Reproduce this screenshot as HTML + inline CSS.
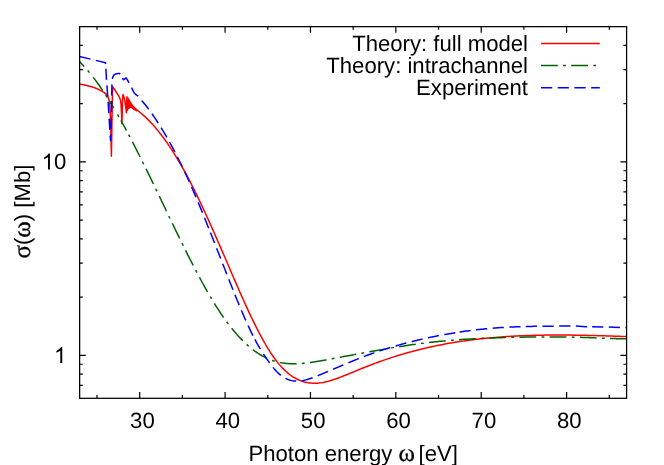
<!DOCTYPE html>
<html>
<head>
<meta charset="utf-8">
<title>Photoionization cross section</title>
<style>
html, body { margin: 0; padding: 0; background: #ffffff; }
body { width: 664px; height: 465px; overflow: hidden; }
svg { display: block; will-change: transform; }
text { font-family: "Liberation Sans", sans-serif; font-size: 22.13px; fill: #000000; text-rendering: geometricPrecision; }
.sym { font-family: "Liberation Serif", serif; font-size: 25px; stroke: #000; stroke-width: 0.3px; }
</style>
</head>
<body>
<svg width="664" height="465" viewBox="0 0 664 465">
<rect x="0" y="0" width="664" height="465" fill="#ffffff"/>
<defs><clipPath id="plotclip"><rect x="79.65" y="26.65" width="546.95" height="371.65"/></clipPath></defs>
<g clip-path="url(#plotclip)" fill="none" stroke-width="1.5" stroke-linejoin="round">
<path id="c-red" stroke="#ff0000" d="M79.6,84.1 L80.39,84.23 L81.19,84.37 L81.98,84.51 L82.78,84.66 L83.57,84.82 L84.37,84.99 L85.16,85.16 L85.96,85.34 L86.75,85.53 L87.54,85.71 L88.34,85.91 L89.13,86.11 L89.93,86.32 L90.72,86.54 L91.52,86.77 L92.31,87.01 L93.11,87.26 L93.9,87.53 L94.69,87.81 L95.49,88.11 L96.28,88.43 L97.08,88.78 L97.87,89.14 L98.67,89.52 L99.46,89.91 L100.26,90.32 L101.05,90.73 L101.84,91.16 L102.64,91.6 L103.43,92.08 L104.23,92.59 L105.02,93.16 L105.82,93.8 L106.61,94.61 L107.41,95.82 L108.2,97.4 L109,100 L109.7,104.2 L110.3,114 L110.8,130 L111.4,156.2 L111.9,125 L112.2,105 L112.5,93 L112.8,86.8 L113.2,87.4 L114.02,88.66 L114.84,89.94 L115.67,91.25 L116.49,92.58 L117.31,93.86 L118.13,95.1 L118.96,96.48 L119.78,98.15 L120.6,100.6 L121,104 L121.4,111 L121.9,123.6 L122.3,110 L122.7,98 L123,94.6 L124,97.3 L125,101.6 L125.8,107.6 L126.4,112.7 L126.65,103 L126.9,96.7 L127.53,110.14 L128.15,98.31 L128.69,108.36 L129.22,99.98 L129.69,107.65 L130.15,101.71 L130.55,107.33 L130.94,103.07 L131.29,107.36 L131.63,104.09 L131.93,107.69 L132.23,104.96 L132.53,108.16 L132.83,105.77 L133.13,108.68 L133.43,106.53 L133.73,109.17 L134.03,107.22 L134.33,109.52 L134.63,107.85 L134.93,109.83 L135.23,108.44 L135.53,110.12 L135.83,108.99 L136.13,110.4 L136.43,109.5 L136.73,110.65 L137.03,109.95 L137.5,110.41 L139,111.57 L140.5,112.78 L141.99,114.04 L143.49,115.36 L144.99,116.72 L146.49,118.14 L147.99,119.62 L149.49,121.14 L150.98,122.71 L152.48,124.34 L153.98,126.02 L155.48,127.74 L156.98,129.52 L158.47,131.35 L159.97,133.24 L161.47,135.17 L162.97,137.15 L164.47,139.18 L165.97,141.27 L167.46,143.41 L168.96,145.59 L170.46,147.83 L171.96,150.11 L173.46,152.45 L174.95,154.84 L176.45,157.28 L177.95,159.76 L179.45,162.3 L180.95,164.89 L182.44,167.52 L183.94,170.21 L185.44,172.95 L186.94,175.73 L188.44,178.56 L189.94,181.44 L191.43,184.35 L192.93,187.31 L194.43,190.31 L195.93,193.35 L197.43,196.42 L198.92,199.53 L200.42,202.68 L201.92,205.85 L203.42,209.06 L204.92,212.3 L206.42,215.56 L207.91,218.85 L209.41,222.16 L210.91,225.5 L212.41,228.86 L213.91,232.23 L215.4,235.63 L216.9,239.04 L218.4,242.47 L219.9,245.91 L221.4,249.36 L222.9,252.83 L224.39,256.3 L225.89,259.78 L227.39,263.26 L228.89,266.75 L230.39,270.23 L231.88,273.71 L233.38,277.19 L234.88,280.65 L236.38,284.1 L237.88,287.54 L239.38,290.96 L240.87,294.35 L242.37,297.72 L243.87,301.06 L245.37,304.38 L246.87,307.65 L248.36,310.89 L249.86,314.1 L251.36,317.25 L252.86,320.37 L254.36,323.43 L255.86,326.44 L257.35,329.4 L258.85,332.3 L260.35,335.14 L261.85,337.91 L263.35,340.62 L264.84,343.25 L266.34,345.82 L267.84,348.31 L269.34,350.72 L270.84,353.05 L272.33,355.29 L273.83,357.45 L275.33,359.51 L276.83,361.48 L278.33,363.36 L279.83,365.13 L281.32,366.82 L282.82,368.4 L284.32,369.9 L285.82,371.3 L287.32,372.62 L288.81,373.85 L290.31,374.99 L291.81,376.05 L293.31,377.03 L294.81,377.93 L296.31,378.75 L297.8,379.5 L299.3,380.17 L300.8,380.77 L302.3,381.31 L303.8,381.77 L305.29,382.16 L306.79,382.5 L308.29,382.76 L309.79,382.97 L311.29,383.12 L312.79,383.21 L314.28,383.25 L315.78,383.23 L317.28,383.16 L318.78,383.04 L320.28,382.87 L321.77,382.66 L323.27,382.4 L324.77,382.1 L326.27,381.76 L327.77,381.39 L329.27,380.99 L330.76,380.55 L332.26,380.08 L333.76,379.59 L335.26,379.08 L336.76,378.54 L338.25,377.99 L339.75,377.42 L341.25,376.84 L342.75,376.25 L344.25,375.65 L345.74,375.04 L347.24,374.44 L348.74,373.83 L350.24,373.21 L351.74,372.6 L353.24,371.99 L354.73,371.37 L356.23,370.76 L357.73,370.14 L359.23,369.53 L360.73,368.92 L362.22,368.32 L363.72,367.71 L365.22,367.11 L366.72,366.52 L368.22,365.93 L369.72,365.34 L371.21,364.77 L372.71,364.2 L374.21,363.63 L375.71,363.08 L377.21,362.52 L378.7,361.98 L380.2,361.44 L381.7,360.91 L383.2,360.39 L384.7,359.87 L386.2,359.35 L387.69,358.85 L389.19,358.35 L390.69,357.86 L392.19,357.37 L393.69,356.89 L395.18,356.41 L396.68,355.95 L398.18,355.48 L399.68,355.03 L401.18,354.58 L402.68,354.13 L404.17,353.7 L405.67,353.27 L407.17,352.84 L408.67,352.42 L410.17,352.01 L411.66,351.6 L413.16,351.2 L414.66,350.8 L416.16,350.42 L417.66,350.03 L419.16,349.65 L420.65,349.28 L422.15,348.92 L423.65,348.56 L425.15,348.2 L426.65,347.86 L428.14,347.51 L429.64,347.18 L431.14,346.85 L432.64,346.52 L434.14,346.2 L435.63,345.89 L437.13,345.58 L438.63,345.27 L440.13,344.98 L441.63,344.68 L443.13,344.4 L444.62,344.11 L446.12,343.84 L447.62,343.57 L449.12,343.3 L450.62,343.04 L452.11,342.78 L453.61,342.53 L455.11,342.29 L456.61,342.04 L458.11,341.81 L459.61,341.58 L461.1,341.35 L462.6,341.13 L464.1,340.91 L465.6,340.7 L467.1,340.49 L468.59,340.29 L470.09,340.09 L471.59,339.9 L473.09,339.71 L474.59,339.52 L476.09,339.34 L477.58,339.17 L479.08,339 L480.58,338.83 L482.08,338.67 L483.58,338.51 L485.07,338.35 L486.57,338.2 L488.07,338.06 L489.57,337.91 L491.07,337.77 L492.57,337.64 L494.06,337.51 L495.56,337.38 L497.06,337.26 L498.56,337.14 L500.06,337.03 L501.55,336.91 L503.05,336.81 L504.55,336.7 L506.05,336.6 L507.55,336.51 L509.04,336.41 L510.54,336.32 L512.04,336.24 L513.54,336.15 L515.04,336.07 L516.54,336 L518.03,335.92 L519.53,335.85 L521.03,335.79 L522.53,335.72 L524.03,335.66 L525.52,335.6 L527.02,335.55 L528.52,335.5 L530.02,335.45 L531.52,335.4 L533.02,335.36 L534.51,335.32 L536.01,335.28 L537.51,335.25 L539.01,335.22 L540.51,335.19 L542,335.16 L543.5,335.14 L545,335.12 L546.5,335.1 L548,335.08 L549.5,335.07 L550.99,335.05 L552.49,335.05 L553.99,335.04 L555.49,335.03 L556.99,335.03 L558.48,335.03 L559.98,335.03 L561.48,335.03 L562.98,335.04 L564.48,335.05 L565.98,335.06 L567.47,335.07 L568.97,335.08 L570.47,335.1 L571.97,335.11 L573.47,335.13 L574.96,335.15 L576.46,335.17 L577.96,335.2 L579.46,335.22 L580.96,335.25 L582.46,335.28 L583.95,335.3 L585.45,335.34 L586.95,335.37 L588.45,335.4 L589.95,335.44 L591.44,335.47 L592.94,335.51 L594.44,335.55 L595.94,335.59 L597.44,335.63 L598.93,335.67 L600.43,335.71 L601.93,335.76 L603.43,335.8 L604.93,335.84 L606.43,335.89 L607.92,335.94 L609.42,335.99 L610.92,336.03 L612.42,336.08 L613.92,336.13 L615.41,336.18 L616.91,336.23 L618.41,336.28 L619.91,336.34 L621.41,336.39 L622.91,336.44 L624.4,336.49 L625.9,336.55 L627.4,336.6"/>
<path id="c-green" stroke="#006400" d="M79.6,61.8 L81.1,63.29 L82.6,64.84 L84.08,66.42 M87.67,70.47 L88.6,71.57 L89.47,72.61 M93.18,77.26 L94.61,79.13 L96.11,81.14 L97.61,83.2 L99.11,85.3 L100.61,87.45 L102.11,89.65 L102.72,90.55 M105.71,95.08 L106.61,96.48 L107.22,97.44 M109.3,100.74 L109.62,101.24 L111.12,103.68 L112.62,106.15 L113.79,108.11 M117.48,114.41 L118.62,116.41 L118.87,116.84 M120.9,120.44 L121.62,121.74 L123.12,124.45 L124.62,127.18 L126.13,129.95 L126.41,130.49 M128.58,134.53 L129.13,135.57 L129.89,137.01 M132.45,141.91 L133.63,144.18 L135.13,147.1 L136.63,150.04 L138.13,153 L139.63,155.97 L140.09,156.88 M142.46,161.62 L142.63,161.98 L143.7,164.13 M146.05,168.88 L147.14,171.1 L148.64,174.17 L150.14,177.25 L151.64,180.33 L153.14,183.43 L153.41,183.98 M155.71,188.76 L156.14,189.65 L156.93,191.28 M159.22,196.05 L160.64,199.01 L162.15,202.14 L163.65,205.27 L165.15,208.4 L166.49,211.2 M168.78,215.98 L169.65,217.78 L170,218.5 M172.3,223.28 L172.65,224.01 L174.15,227.12 L175.65,230.22 L177.15,233.31 L178.65,236.4 L179.63,238.39 M181.97,243.15 L183.16,245.56 L183.2,245.66 M185.56,250.41 L186.16,251.6 L187.66,254.59 L189.16,257.57 L190.66,260.52 L192.16,263.45 L193.16,265.39 M195.61,270.09 L196.66,272.1 L196.91,272.57 M199.41,277.25 L199.67,277.73 L201.17,280.5 L202.67,283.24 L204.17,285.95 L205.67,288.62 L207.17,291.26 L207.56,291.93 M210.22,296.52 L211.65,298.92 M214.41,303.45 L214.67,303.88 L216.17,306.29 L217.68,308.64 L219.18,310.96 L220.68,313.22 L222.18,315.44 L223.61,317.51 M226.7,321.81 L228.18,323.81 L228.37,324.06 M231.63,328.24 L232.68,329.54 L234.18,331.35 L235.69,333.11 L237.19,334.82 L238.69,336.47 L240.19,338.08 L241.69,339.63 L242.82,340.76 M246.66,344.41 L247.69,345.34 L248.76,346.26 M252.87,349.61 L253.7,350.24 L255.2,351.35 L256.7,352.4 L258.2,353.4 L259.7,354.35 L261.2,355.25 L262.7,356.11 L264.2,356.91 L265.7,357.67 L267.16,358.36 M272.08,360.33 L273.21,360.72 L274.71,361.18 L274.74,361.19 M279.89,362.46 L280.71,362.63 L282.21,362.89 L283.71,363.11 L285.21,363.3 L286.71,363.45 L288.21,363.57 L289.72,363.66 L291.22,363.72 L292.72,363.75 L294.22,363.76 L295.72,363.74 L296.6,363.71 M301.9,363.41 L303.22,363.3 L304.68,363.16 M309.95,362.53 L310.73,362.42 L312.23,362.21 L313.73,361.98 L315.23,361.75 L316.73,361.5 L318.23,361.25 L319.73,360.99 L321.23,360.73 L322.73,360.46 L324.23,360.19 L325.73,359.92 L326.52,359.78 M331.73,358.82 L331.74,358.82 L333.24,358.54 L334.48,358.31 M339.7,357.35 L340.74,357.15 L342.24,356.87 L343.74,356.59 L345.25,356.31 L346.75,356.03 L348.25,355.74 L349.75,355.46 L351.25,355.18 L352.75,354.9 L354.25,354.62 L355.75,354.34 L356.21,354.25 M361.42,353.28 L361.75,353.22 L363.26,352.94 L364.17,352.77 M369.38,351.81 L370.76,351.56 L372.26,351.28 L373.76,351.01 L375.26,350.74 L376.76,350.47 L378.26,350.2 L379.76,349.94 L381.27,349.67 L382.77,349.41 L384.27,349.15 L385.77,348.89 L385.92,348.86 M391.15,347.97 L391.77,347.87 L393.27,347.62 L393.91,347.51 M399.14,346.66 L399.28,346.64 L400.78,346.41 L402.28,346.17 L403.78,345.94 L405.28,345.71 L406.78,345.48 L408.28,345.26 L409.78,345.04 L411.28,344.82 L412.78,344.6 L414.28,344.39 L415.76,344.19 M421.01,343.48 L421.79,343.38 L423.29,343.19 L423.79,343.13 M429.05,342.5 L429.29,342.47 L430.79,342.3 L432.29,342.13 L433.79,341.96 L435.29,341.8 L436.8,341.65 L438.3,341.49 L439.8,341.34 L441.3,341.2 L442.8,341.05 L444.3,340.91 L445.76,340.78 M451.04,340.32 L451.8,340.26 L453.3,340.14 L453.83,340.1 M459.12,339.7 L459.31,339.68 L460.81,339.58 L462.31,339.47 L463.81,339.37 L465.31,339.28 L466.81,339.18 L468.31,339.09 L469.81,339 L471.31,338.91 L472.82,338.83 L474.32,338.74 L475.82,338.66 L475.89,338.66 M481.18,338.4 L481.82,338.37 L483.32,338.3 L483.98,338.27 M489.27,338.05 L489.32,338.05 L490.83,337.99 L492.33,337.93 L493.83,337.88 L495.33,337.83 L496.83,337.78 L498.33,337.73 L499.83,337.68 L501.33,337.64 L502.83,337.59 L504.33,337.55 L505.83,337.51 L506.06,337.51 M511.36,337.38 L511.84,337.37 L513.34,337.33 L514.16,337.32 M519.46,337.21 L520.84,337.19 L522.34,337.16 L523.84,337.14 L525.34,337.12 L526.84,337.09 L528.35,337.07 L529.85,337.05 L531.35,337.03 L532.85,337.01 L534.35,336.99 L535.85,336.98 L536.26,336.97 M541.56,336.93 L541.85,336.92 L543.35,336.91 L544.36,336.91 M549.66,336.89 L550.86,336.89 L552.36,336.89 L553.86,336.89 L555.36,336.89 L556.86,336.9 L558.36,336.91 L559.86,336.92 L561.36,336.93 L562.86,336.95 L564.37,336.96 L565.87,336.99 L566.46,336.99 M571.76,337.09 L571.87,337.09 L573.37,337.13 L574.55,337.16 M579.85,337.31 L580.87,337.35 L582.38,337.4 L583.88,337.45 L585.38,337.5 L586.88,337.56 L588.38,337.62 L589.88,337.68 L591.38,337.74 L592.88,337.8 L594.38,337.86 L595.88,337.92 L596.64,337.95 M601.94,338.16 L603.39,338.21 L604.73,338.27 M610.03,338.45 L610.89,338.48 L612.39,338.53 L613.89,338.57 L615.39,338.61 L616.89,338.65 L618.4,338.68 L619.9,338.71 L621.4,338.74 L622.9,338.76 L624.4,338.78 L625.9,338.79 L626.83,338.8"/>
<path id="c-blue" stroke="#0000ff" d="M79.6,56.5 L90.49,59.11 M95.84,60.39 L105.5,62.7 L105.57,63.97 M105.85,68.7 L106.5,79.88 M106.91,85.36 L107.75,96.53 M108.1,102.02 L108.8,113.2 M109.14,118.69 L109.84,129.87 M110.18,135.36 L110.5,140.5 L110.7,134.46 M110.88,128.96 L111.25,117.77 M111.43,112.27 L111.5,110 L111.63,101.07 M111.72,95.57 L111.8,90 L111.94,84.38 M112.3,78.9 L112.79,77.16 L113.27,76.03 L113.76,75.25 L114.25,74.8 L114.73,74.45 L115.22,74.16 L115.71,73.93 L116.19,73.78 L116.68,73.69 L117.17,73.64 L117.65,73.59 L118.14,73.55 L118.63,73.52 L119.11,73.51 L119.6,73.5 L120.14,74.28 M122.5,78 L123.5,79.8 L126.1,77.8 L127.4,79.8 L128.7,82.4 L128.97,82.9 M131.57,87.57 L131.8,88.01 L132.4,89.38 L133,90.7 L133.6,91.87 L134.2,92.86 L134.8,93.59 L135.4,94.19 L136,94.7 L136.6,95.13 L137.2,95.5 L137.8,95.92 L138.2,96.26 M141.71,100.47 L142,100.9 L145.5,105 L147,106.96 L148.5,108.96 L148.69,109.23 M151.9,113.69 L152.99,115.25 L154.49,117.45 L155.98,119.69 L157.48,121.98 L158.13,123 M161.07,127.65 L161.97,129.12 L163.47,131.6 L164.97,134.13 L166.47,136.7 L166.79,137.27 M169.5,142.06 L170.96,144.7 L172.46,147.46 L173.95,150.28 L174.82,151.92 M177.34,156.81 L178.45,158.99 L179.94,161.99 L181.44,165.04 L182.31,166.84 M184.68,171.81 L185.93,174.48 L187.43,177.72 L188.93,181.01 L189.36,181.98 M191.6,187 L191.92,187.73 L193.42,191.16 L194.92,194.63 L196.05,197.28 M198.19,202.35 L199.41,205.28 L200.91,208.9 L202.41,212.55 L202.47,212.7 M204.54,217.79 L205.4,219.93 L206.9,223.66 L208.4,227.41 L208.71,228.19 M210.47,232.61 L211.39,234.96 L212.89,238.75 L214.39,242.56 L214.57,243.03 M216.58,248.15 L217.38,250.21 L218.88,254.04 L220.38,257.87 L220.66,258.58 M222.66,263.71 L223.37,265.53 L224.87,269.35 L226.37,273.16 L226.75,274.13 M228.77,279.25 L229.36,280.76 L230.86,284.54 L232.36,288.3 L232.9,289.66 M234.96,294.76 L235.35,295.75 L236.85,299.44 L238.35,303.08 L239.2,305.13 M241.32,310.2 L241.34,310.25 L242.84,313.76 L244.34,317.21 L245.78,320.47 M248.06,325.48 L248.83,327.16 L250.33,330.33 L251.83,333.4 L252.91,335.57 M254.89,339.41 L256.32,342.07 L257.82,344.76 L259.31,347.35 L260.4,349.16 M263.31,353.83 L263.81,354.6 L265.3,356.85 L266.8,359.03 L268.3,361.14 L269.69,363.03 M273.05,367.38 L274.29,368.89 L275.79,370.6 L277.29,372.18 L278.78,373.62 L280.28,374.92 L280.87,375.37 M285.48,378.35 L286.27,378.75 L287.77,379.4 L289.27,379.94 L290.76,380.37 L292.26,380.7 L293.76,380.92 L295.26,381.06 L296.23,381.09 M301.71,380.72 L301.8,380.71 M301.8,380.71 L302.74,380.55 L304.24,380.25 L305.74,379.89 L307.24,379.48 L308.73,379.03 L310.23,378.54 L311.73,378.02 L312.57,377.71 M317.69,375.7 L317.72,375.69 L319.22,375.08 L320.71,374.46 L322.21,373.84 L323.71,373.22 L325.21,372.59 L326.7,371.96 L328.03,371.4 M333.1,369.25 L334.19,368.79 L335.69,368.15 L337.19,367.51 L338.69,366.87 L340.18,366.23 L341.68,365.6 L343.18,364.96 L343.4,364.87 M348.37,362.77 L349.17,362.44 L350.67,361.82 L352.16,361.2 L353.66,360.59 L355.16,359.98 L356.66,359.37 L358.15,358.77 L358.74,358.54 M363.87,356.54 L364.14,356.44 L365.64,355.87 L367.14,355.31 L368.64,354.76 L370.13,354.21 L371.63,353.68 L373.13,353.15 L374.39,352.71 M379.59,350.94 L380.62,350.6 L382.11,350.11 L383.61,349.62 L385.11,349.15 L386.61,348.68 L388.1,348.21 L389.6,347.75 L390.27,347.55 M395.55,345.99 L395.59,345.98 L397.09,345.55 L398.59,345.13 L400.09,344.71 L401.58,344.3 L403.08,343.89 L404.58,343.49 L406.08,343.09 L406.34,343.02 M411.67,341.65 L412.07,341.55 L413.56,341.18 L415.06,340.81 L416.56,340.45 L418.06,340.09 L419.55,339.74 L421.05,339.39 L422.55,339.04 L422.56,339.04 M427.93,337.85 L428.54,337.71 L430.04,337.39 L431.53,337.08 L433.03,336.77 L434.53,336.46 L436.03,336.16 L437.52,335.86 L438.9,335.59 M444.31,334.58 L445.01,334.45 L446.51,334.18 L448.01,333.91 L449.5,333.65 L451,333.4 L452.5,333.15 L454,332.9 L455.35,332.69 M459.51,332.04 L459.99,331.97 L461.49,331.75 L462.98,331.53 L464.48,331.32 L465.98,331.11 L467.48,330.91 L468.97,330.71 L470.47,330.51 L470.6,330.5 M476.06,329.83 L476.46,329.78 L477.96,329.61 L479.46,329.45 L480.95,329.29 L482.45,329.13 L483.95,328.98 L485.45,328.83 L486.94,328.69 L487.2,328.67 M492.68,328.19 L492.93,328.17 L494.43,328.05 L495.93,327.93 L497.43,327.82 L498.92,327.72 L500.42,327.61 L501.92,327.52 L503.42,327.43 L503.85,327.4 M509.34,327.11 L509.41,327.1 L510.9,327.03 L512.4,326.97 L513.9,326.9 L515.4,326.84 L516.9,326.79 L518.39,326.73 L519.89,326.68 L520.53,326.66 M525.8,326.52 L525.88,326.51 L527.38,326.48 L528.88,326.44 L530.37,326.41 L531.87,326.38 L533.37,326.36 L534.87,326.33 L536.36,326.31 L536.99,326.3 M542.49,326.24 L543.85,326.22 L545.35,326.21 L546.85,326.2 L548.34,326.18 L549.84,326.17 L551.34,326.16 L552.84,326.15 L553.69,326.15 M559.19,326.12 L560.32,326.11 L561.82,326.1 L563.32,326.09 L564.82,326.08 L566.31,326.07 L567.81,326.06 L569.31,326.05 L570.39,326.04 M575.89,326.04 L585.8,326.8 L587.06,326.81 M592.1,326.84 L602.6,326.9 L603.3,326.92 M608.8,327.08 L619.4,327.4 L619.99,327.42 M625.49,327.63 L627.4,327.7"/>
</g>
<g fill="none" stroke="#000000" stroke-width="1.25">
<path d="M97.01,398.3 v-3.2 M97.01,26.65 v3.2 M139.7,398.3 v-6.2 M139.7,26.65 v6.2 M182.39,398.3 v-3.2 M182.39,26.65 v3.2 M225.08,398.3 v-6.2 M225.08,26.65 v6.2 M267.77,398.3 v-3.2 M267.77,26.65 v3.2 M310.46,398.3 v-6.2 M310.46,26.65 v6.2 M353.15,398.3 v-3.2 M353.15,26.65 v3.2 M395.84,398.3 v-6.2 M395.84,26.65 v6.2 M438.53,398.3 v-3.2 M438.53,26.65 v3.2 M481.22,398.3 v-6.2 M481.22,26.65 v6.2 M523.91,398.3 v-3.2 M523.91,26.65 v3.2 M566.6,398.3 v-6.2 M566.6,26.65 v6.2 M609.29,398.3 v-3.2 M609.29,26.65 v3.2 M79.65,385.35 h3.2 M626.6,385.35 h-3.2 M79.65,374.13 h3.2 M626.6,374.13 h-3.2 M79.65,364.23 h3.2 M626.6,364.23 h-3.2 M79.65,355.38 h6.2 M626.6,355.38 h-6.2 M79.65,297.13 h3.2 M626.6,297.13 h-3.2 M79.65,263.06 h3.2 M626.6,263.06 h-3.2 M79.65,238.89 h3.2 M626.6,238.89 h-3.2 M79.65,220.14 h3.2 M626.6,220.14 h-3.2 M79.65,204.81 h3.2 M626.6,204.81 h-3.2 M79.65,191.86 h3.2 M626.6,191.86 h-3.2 M79.65,180.64 h3.2 M626.6,180.64 h-3.2 M79.65,170.74 h3.2 M626.6,170.74 h-3.2 M79.65,161.89 h6.2 M626.6,161.89 h-6.2 M79.65,103.65 h3.2 M626.6,103.65 h-3.2 M79.65,69.57 h3.2 M626.6,69.57 h-3.2 M79.65,45.4 h3.2 M626.6,45.4 h-3.2" stroke-width="1.2"/>
<rect x="79.65" y="26.65" width="546.95" height="371.65"/>
</g>
<g fill="none" stroke-width="1.5">
<path stroke="#ff0000" d="M541,43.6 H599.8"/>
<path stroke="#006400" stroke-dasharray="16.8 5.3 2.8 5.3" d="M541,65.5 H599.8"/>
<path stroke="#0000ff" stroke-dasharray="11.2 5.5" d="M541,87.7 H599.8"/>
</g>
<g>
<text x="528" y="51.2" text-anchor="end">Theory: full model</text>
<text x="528" y="73.2" text-anchor="end">Theory: intrachannel</text>
<text x="528" y="95.1" text-anchor="end">Experiment</text>
<text x="142.4" y="428.1" text-anchor="middle">30</text><text x="227.78" y="428.1" text-anchor="middle">40</text><text x="313.16" y="428.1" text-anchor="middle">50</text><text x="398.54" y="428.1" text-anchor="middle">60</text><text x="483.92" y="428.1" text-anchor="middle">70</text><text x="569.3" y="428.1" text-anchor="middle">80</text>
<path d="M763,0H583V1147Q518,1085 412.5,1023Q307,961 223,930V1104Q374,1175 487,1276Q600,1377 647,1472H763Z" transform="translate(41.69,169.39) scale(0.010806,-0.010806)" fill="#000"/><text x="66.3" y="169.39" text-anchor="end">0</text><path d="M763,0H583V1147Q518,1085 412.5,1023Q307,961 223,930V1104Q374,1175 487,1276Q600,1377 647,1472H763Z" transform="translate(53.99,362.88) scale(0.010806,-0.010806)" fill="#000"/>
<text x="353.2" y="461.2" text-anchor="middle">Photon energy <tspan class="sym">&#969;</tspan><tspan dx="-2.6"> [eV]</tspan></text>
<text transform="translate(29.6,211.6) rotate(-90)" text-anchor="middle"><tspan class="sym">&#963;</tspan>(<tspan class="sym">&#969;</tspan>) [Mb]</text>
</g>
</svg>
</body>
</html>
